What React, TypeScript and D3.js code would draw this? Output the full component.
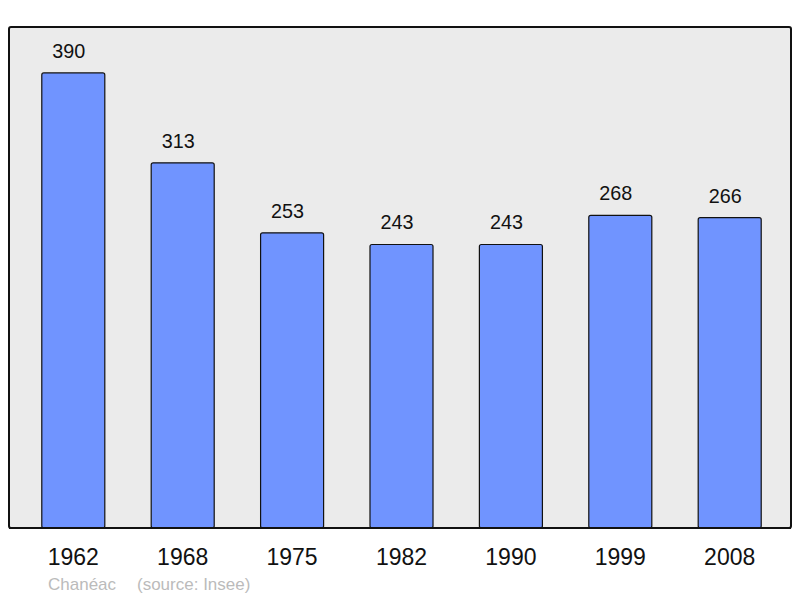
import { useEffect, useRef } from 'react';
import * as d3 from 'd3';

const years = ['1962', '1968', '1975', '1982', '1990', '1999', '2008'];
const population = [390, 313, 253, 243, 243, 268, 266];
const commune = 'Chanéac';
const source = '(source: Insee)';

export default function App() {
  const svgRef = useRef<SVGSVGElement>(null);

  useEffect(() => {
    if (!svgRef.current) return;
    const svg = d3.select(svgRef.current);
    svg.selectAll('*').remove();

    const frame = { left: 9, top: 27, right: 791, bottom: 528 };
    const font = 'Liberation Sans, Arial, sans-serif';

    // plot background
    svg.append('rect')
      .attr('x', frame.left)
      .attr('y', frame.top)
      .attr('width', frame.right - frame.left)
      .attr('height', frame.bottom - frame.top)
      .attr('rx', 2)
      .attr('fill', '#ebebeb')
      .attr('stroke', '#111')
      .attr('stroke-width', 2);

    const x = d3.scaleBand<string>()
      .domain(years)
      .range([frame.left + 1.5, frame.right + 1.5])
      .paddingInner(0.424)
      .paddingOuter(0.286);

    const y = d3.scaleLinear()
      .domain([0, 429.4])
      .range([frame.bottom, frame.top]);

    const data = years.map((yr, i) => ({ yr, v: population[i] }));

    svg.selectAll('.bar')
      .data(data)
      .enter()
      .append('rect')
      .attr('class', 'bar')
      .attr('x', d => x(d.yr) || 0)
      .attr('y', d => y(d.v))
      .attr('width', x.bandwidth())
      .attr('height', d => frame.bottom - y(d.v))
      .attr('rx', 2)
      .attr('fill', '#7094ff')
      .attr('stroke', '#111')
      .attr('stroke-width', 1.2);

    // redraw bottom frame line over bars
    svg.append('line')
      .attr('x1', frame.left)
      .attr('x2', frame.right)
      .attr('y1', frame.bottom)
      .attr('y2', frame.bottom)
      .attr('stroke', '#111')
      .attr('stroke-width', 2);

    // value labels sit a little left of the bar centre in the original
    svg.selectAll('.val')
      .data(data)
      .enter()
      .append('text')
      .attr('class', 'val')
      .attr('x', d => (x(d.yr) || 0) + x.bandwidth() / 2 - 4.5)
      .attr('y', d => y(d.v) - 15)
      .attr('text-anchor', 'middle')
      .attr('font-family', font)
      .attr('font-size', '19.8px')
      .attr('fill', '#111')
      .text(d => d.v);

    svg.selectAll('.year')
      .data(years)
      .enter()
      .append('text')
      .attr('class', 'year')
      .attr('x', d => (x(d) || 0) + x.bandwidth() / 2)
      .attr('y', 565)
      .attr('text-anchor', 'middle')
      .attr('font-family', font)
      .attr('font-size', '23px')
      .attr('fill', '#111')
      .text(d => d);

    svg.append('text')
      .attr('x', 48)
      .attr('y', 590)
      .attr('font-family', font)
      .attr('font-size', '17px')
      .attr('fill', '#bbbbbb')
      .text(commune);

    svg.append('text')
      .attr('x', 137)
      .attr('y', 590)
      .attr('font-family', font)
      .attr('font-size', '17px')
      .attr('fill', '#bbbbbb')
      .text(source);
  }, []);

  return (
    <svg
      ref={svgRef}
      width={800}
      height={598}
      style={{ position: 'absolute', left: 0, top: 0, background: '#fff' }}
    />
  );
}
